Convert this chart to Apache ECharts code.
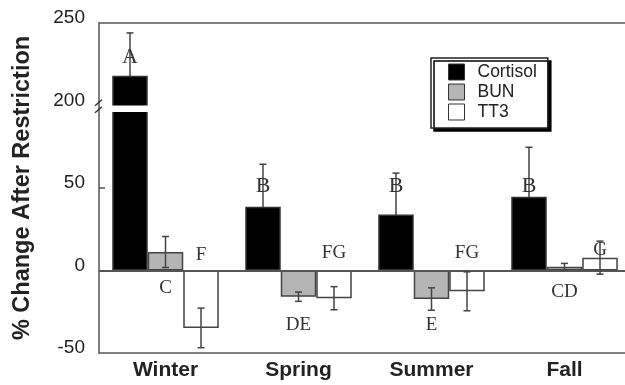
<!DOCTYPE html>
<html>
<head>
<meta charset="utf-8">
<script src="https://cdn.jsdelivr.net/npm/echarts@6/dist/echarts.min.js"></script>
<style>
	html, body { margin: 0; padding: 0; background: #fff; }
	#chart { width: 625px; height: 385px; }
</style>
</head>
<body>
<div id="chart"></div>
<script>
	//季节 / categories
	var seasons = ['Winter', 'Spring', 'Summer', 'Fall'];
	//均值与误差
	var cortisol = [218, 38.7, 34, 44.7];
	var cortisolSE = [26, 25.7, 25, 30];
	var bun = [11.2, -15.9, -17.3, 2.3];
	var bunSE = [9.4, 2.8, 6.8, 2];
	var tt3 = [-34.8, -16.8, -12.6, 7.8];
	var tt3SE = [12, 7, 11.8, 10];
	//显著性字母 and where they sit (in % units)
	var cortisolLetters = ['A', 'B', 'B', 'B'];
	var cortisolLetterAt = [229, 51, 51, 51];
	var bunLetters = ['C', 'DE', 'E', 'CD'];
	var bunLetterAt = [-10.6, -33, -33, -13];
	var tt3Letters = ['F', 'FG', 'FG', 'G'];
	var tt3LetterAt = [9.4, 10.6, 10.6, 12.4];
	//y tick labels (axis is broken between 50 and 200)
	var yTicks = [-50, 0, 50, 200, 250];

	var BREAK_SHIFT = 100;  //values above the break are drawn 100 lower
	function toAxis(v) {
		return v >= 150 ? v - BREAK_SHIFT : v;
	}
	function fromAxis(v) {
		return v >= 100 ? v + BREAK_SHIFT : v;
	}

	var BAR_FRAC = 0.267;
	var sansFont = 'Liberation Sans, Arial, sans-serif';
	var serifFont = 'Liberation Serif, Times New Roman, serif';
	var frameLine = { color: '#555', width: 1.5 };

	function barData(vals) {
		return vals.map(function (v) { return toAxis(v); });
	}
	function errData(vals, se) {
		return vals.map(function (v, i) {
			return [i, toAxis(v), toAxis(v - se[i]), toAxis(v + se[i])];
		});
	}
	function letterData(letters, at) {
		return letters.map(function (t, i) {
			return { value: [i, toAxis(at[i])], name: t };
		});
	}

	//误差线
	function errorSeries(name, data, k, z) {
		return {
			type: 'custom',
			name: name + '-err',
			z: z,
			silent: true,
			data: data,
			renderItem: function (params, api) {
				var cat = api.value(0);
				var bw = api.size([1, 0])[0] * BAR_FRAC;
				var lo = api.coord([cat, api.value(2)]);
				var hi = api.coord([cat, api.value(3)]);
				var x = lo[0] + (k - 1) * bw;
				var cap = 3.5;
				var st = { stroke: '#444', lineWidth: 1.5 };
				return {
					type: 'group',
					children: [
						{ type: 'line', shape: { x1: x, y1: lo[1], x2: x, y2: hi[1] }, style: st },
						{ type: 'line', shape: { x1: x - cap, y1: lo[1], x2: x + cap, y2: lo[1] }, style: st },
						{ type: 'line', shape: { x1: x - cap, y1: hi[1], x2: x + cap, y2: hi[1] }, style: st }
					]
				};
			}
		};
	}

	//字母标注
	function letterSeries(name, data, k, size) {
		return {
			type: 'custom',
			name: name + '-letters',
			z: 6,
			silent: true,
			data: data,
			renderItem: function (params, api) {
				var cat = api.value(0);
				var bw = api.size([1, 0])[0] * BAR_FRAC;
				var p = api.coord([cat, api.value(1)]);
				return {
					type: 'text',
					style: {
						x: p[0] + (k - 1) * bw,
						y: p[1],
						text: data[params.dataIndex].name,
						align: 'center',
						verticalAlign: 'middle',
						font: size + 'px ' + serifFont,
						fill: '#333'
					}
				};
			}
		};
	}

	var chartOption = {
		animation: false,
		backgroundColor: '#fff',
		grid: {
			left: 99,
			top: 23,
			width: 532,
			height: 330,
			outerBoundsMode: 'none',
			containLabel: false
		},
		legend: {
			orient: 'vertical',
			left: 431,
			top: 58,
			data: ['Cortisol', 'BUN', 'TT3'],
			icon: 'rect',
			itemWidth: 16,
			itemHeight: 16,
			itemGap: 2,
			padding: [5, 11, 7, 17],
			backgroundColor: '#fff',
			borderColor: '#222',
			borderWidth: 1.5,
			shadowColor: '#000',
			shadowBlur: 0,
			shadowOffsetX: 3,
			shadowOffsetY: 3,
			itemStyle: { borderColor: '#333', borderWidth: 1 },
			textStyle: {
				color: '#222',
				fontSize: 17.5,
				fontFamily: sansFont,
				padding: [0, 0, 0, 8]
			}
		},
		xAxis: [{
			type: 'category',
			data: seasons,
			position: 'bottom',
			axisLine: { show: true, onZero: false, lineStyle: frameLine },
			axisTick: { show: false },
			axisLabel: {
				color: '#222',
				fontSize: 21,
				fontWeight: 'bold',
				fontFamily: sansFont,
				margin: 7
			},
			splitLine: { show: false }
		}, {
			//上边框
			type: 'category',
			data: seasons,
			position: 'top',
			axisLine: { show: true, onZero: false, lineStyle: frameLine },
			axisTick: { show: false },
			axisLabel: { show: false },
			splitLine: { show: false }
		}],
		yAxis: {
			type: 'value',
			min: -50,
			max: 150,
			interval: 50,
			name: '% Change After Restriction',
			nameLocation: 'middle',
			nameGap: 64,
			nameTextStyle: {
				color: '#222',
				fontSize: 23.5,
				fontWeight: 'bold',
				fontFamily: sansFont
			},
			axisLine: { show: true, lineStyle: frameLine },
			axisTick: {
				show: true,
				inside: true,
				length: 6,
				customValues: [toAxis(50)],
				lineStyle: frameLine
			},
			axisLabel: {
				color: '#222',
				fontSize: 19,
				fontFamily: sansFont,
				margin: 14,
				verticalAlign: 'bottom',
				lineHeight: 10,
				customValues: yTicks.map(toAxis),
				formatter: function (v) { return String(fromAxis(v)); }
			},
			splitLine: { show: false }
		},
		series: [
			{
				name: 'Cortisol',
				type: 'bar',
				data: barData(cortisol),
				barWidth: (BAR_FRAC * 100) + '%',
				barGap: '0%',
				itemStyle: { color: '#000', borderColor: '#333', borderWidth: 1.5 },
				markLine: {  //零线
					silent: true,
					symbol: 'none',
					label: { show: false },
					lineStyle: { color: '#555', width: 2, type: 'solid' },
					data: [{ yAxis: 0 }]
				}
			},
			{
				name: 'BUN',
				type: 'bar',
				data: barData(bun),
				barWidth: (BAR_FRAC * 100) + '%',
				barGap: '0%',
				itemStyle: { color: '#b5b5b5', borderColor: '#444', borderWidth: 1.5 }
			},
			{
				name: 'TT3',
				type: 'bar',
				data: barData(tt3),
				barWidth: (BAR_FRAC * 100) + '%',
				barGap: '0%',
				itemStyle: { color: '#fff', borderColor: '#444', borderWidth: 1.5 }
			},
			errorSeries('Cortisol', errData(cortisol, cortisolSE), 0, 1),
			errorSeries('BUN', errData(bun, bunSE), 1, 5),
			errorSeries('TT3', errData(tt3, tt3SE), 2, 5),
			//断轴: white gap through the tall bar and // on the axis
			{
				type: 'custom',
				name: 'break',
				z: 7,
				silent: true,
				data: [[0, 96, 100]],
				renderItem: function (params, api) {
					var cat = api.value(0);
					var bw = api.size([1, 0])[0] * BAR_FRAC;
					var a = api.coord([cat, api.value(1)]);
					var b = api.coord([cat, api.value(2)]);
					var x0 = a[0] - bw - bw / 2 - 2;
					var ax = params.coordSys.x;
					var ym = (a[1] + b[1]) / 2 - 2;
					var st = { stroke: '#333', lineWidth: 1.5 };
					return {
						type: 'group',
						children: [
							{ type: 'rect', shape: { x: x0, y: b[1], width: bw + 4, height: a[1] - b[1] }, style: { fill: '#fff' } },
							{ type: 'line', shape: { x1: ax - 4, y1: ym - 1, x2: ax + 3, y2: ym - 7 }, style: st },
							{ type: 'line', shape: { x1: ax - 4, y1: ym + 6, x2: ax + 3, y2: ym }, style: st }
						]
					};
				}
			},
			letterSeries('Cortisol', letterData(cortisolLetters, cortisolLetterAt), 0, 22),
			letterSeries('BUN', letterData(bunLetters, bunLetterAt), 1, 19),
			letterSeries('TT3', letterData(tt3Letters, tt3LetterAt), 2, 19)
		]
	};

	var barChart = echarts.init(document.getElementById('chart'), null, { renderer: 'canvas' });
	barChart.setOption(chartOption);
</script>
</body>
</html>
